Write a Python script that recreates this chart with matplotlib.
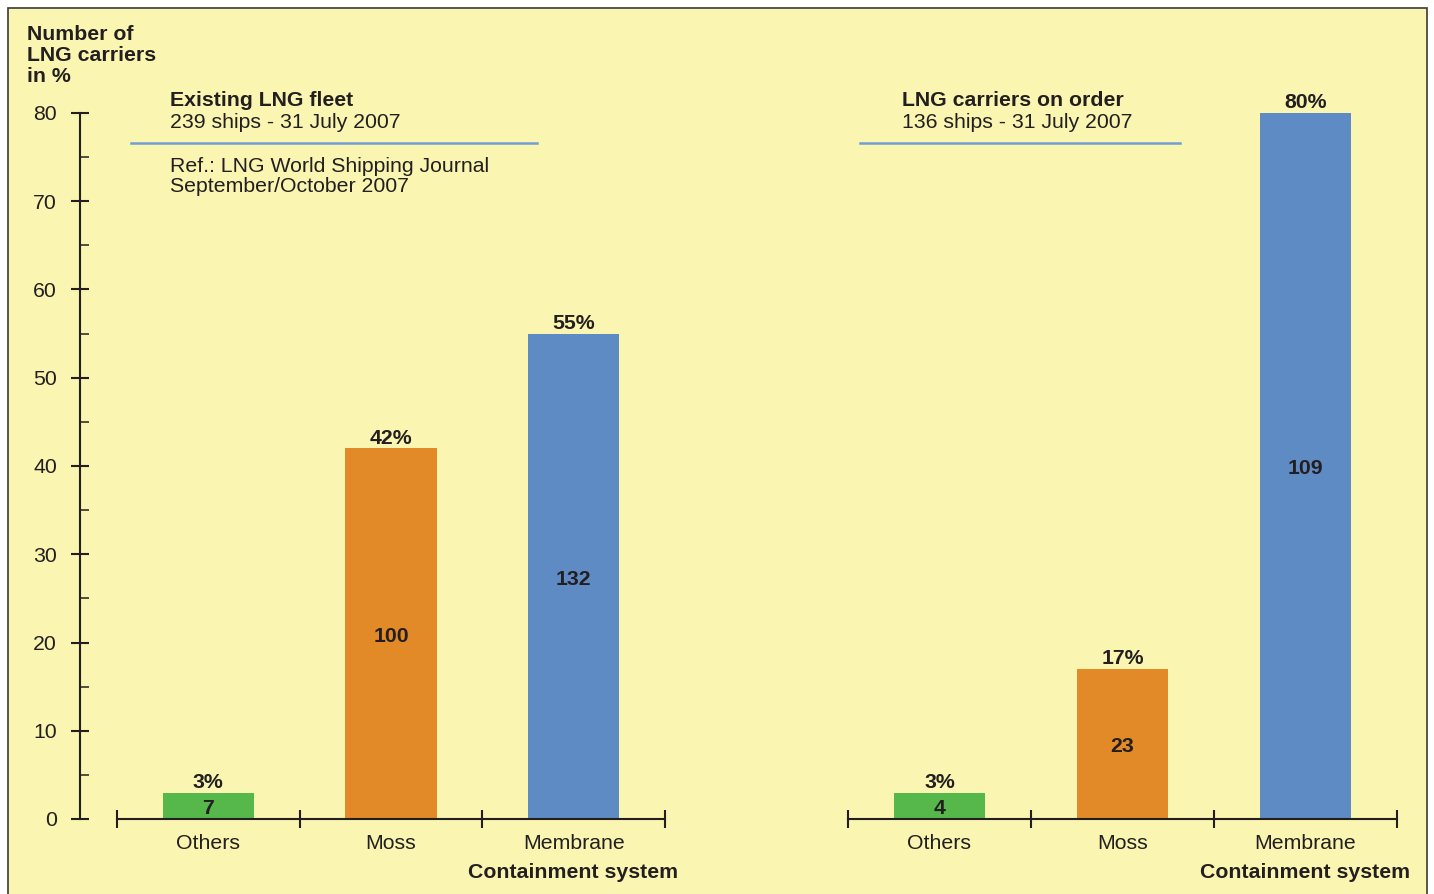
import matplotlib
matplotlib.use("Agg")

import matplotlib.pyplot as plt
from matplotlib.patches import Rectangle

# ---------------------------------------------------------------------------
# Data
# ---------------------------------------------------------------------------
categories = ["Others", "Moss", "Membrane"]
existing_pct = [3, 42, 55]
existing_ships = [7, 100, 132]
order_pct = [3, 17, 80]
order_ships = [4, 23, 109]

# ---------------------------------------------------------------------------
# Style
# ---------------------------------------------------------------------------
W, H = 1434, 894
BG = "#FAF5B0"
TXT = "#231F20"
LINE_BLUE = "#6F9FD3"
BAR_COLORS = ["#56B84B", "#E18A27", "#5F8BC5"]
plt.rcParams["font.family"] = ["Liberation Sans", "DejaVu Sans"]
FS = 15.3


def fx(x):
    return x / W


def fy(y):
    return 1 - y / H


fig = plt.figure(figsize=(W / 100, H / 100), dpi=100)
fig.patch.set_facecolor("white")

# yellow panel with a border on top, left and right
fig.patches.append(Rectangle((fx(8), -0.02), fx(1427) - fx(8), fy(8) + 0.02,
                             transform=fig.transFigure, facecolor=BG,
                             edgecolor="#3A3A3A", linewidth=1.2, zorder=-5))

axis_bottom = fy(819)
axis_height = fy(113) - fy(819)
cat_w = 183.0


def make_panel(left_px, right_px, pct, ships, with_yaxis):
    ax = fig.add_axes([fx(left_px), axis_bottom, fx(right_px) - fx(left_px), axis_height])
    ax.set_zorder(2)
    ax.patch.set_visible(False)
    left_lim = -0.5 - (117 - left_px) / cat_w if with_yaxis else -0.5
    ax.set_xlim(left_lim, 2.5)
    ax.set_ylim(0, 80)

    x = range(len(categories))
    ax.bar(x, pct, width=0.5, color=BAR_COLORS, zorder=2)

    for xi, p, s in zip(x, pct, ships):
        ax.annotate(f"{p}%", (xi, p), xytext=(0, 0.5), textcoords="offset points",
                    ha="center", va="bottom", fontsize=FS, weight="bold",
                    color=TXT, annotation_clip=False)
        ax.annotate(str(s), (xi, p / 2), xytext=(0, -2), textcoords="offset points",
                    ha="center", va="center", fontsize=FS, weight="bold",
                    color=TXT, zorder=3)

    for side in ["top", "right"]:
        ax.spines[side].set_visible(False)
    ax.spines["bottom"].set_bounds(-0.5, 2.5)
    ax.spines["bottom"].set_linewidth(1.5)
    ax.spines["bottom"].set_color(TXT)

    ax.set_xticks(list(x))
    ax.set_xticklabels(categories, fontsize=FS, color=TXT)
    ax.tick_params(axis="x", which="major", length=0, pad=11)
    ax.set_xticks([-0.5, 0.5, 1.5, 2.5], minor=True)
    ax.tick_params(axis="x", which="minor", direction="inout", length=13,
                   width=1.5, color=TXT)

    if with_yaxis:
        ax.spines["left"].set_linewidth(1.5)
        ax.spines["left"].set_color(TXT)
        ax.set_yticks(range(0, 81, 10))
        ax.set_yticks(range(5, 80, 10), minor=True)
        ax.tick_params(axis="y", which="major", direction="inout", length=13,
                       width=1.5, color=TXT, labelsize=FS, labelcolor=TXT, pad=10)
        ax.tick_params(axis="y", which="minor", direction="in", length=6.5,
                       width=1.1, color=TXT)
    else:
        ax.spines["left"].set_visible(False)
        ax.set_yticks([])
    return ax


make_panel(80, 665, existing_pct, existing_ships, True)
make_panel(848, 1397, order_pct, order_ships, False)

# ---------------------------------------------------------------------------
# Titles and notes
# ---------------------------------------------------------------------------
fig.text(fx(27), fy(25), "Number of\nLNG carriers\nin %", ha="left", va="top",
         fontsize=FS, weight="bold", color=TXT, linespacing=1.12)

fig.text(fx(170), fy(101), "Existing LNG fleet", ha="left", va="center",
         fontsize=FS, weight="bold", color=TXT)
fig.text(fx(170), fy(123), "239 ships - 31 July 2007", ha="left", va="center",
         fontsize=FS, color=TXT)
fig.add_artist(plt.Line2D([fx(131), fx(537)], [fy(143), fy(143)],
                          color=LINE_BLUE, linewidth=1.8))
fig.text(fx(170), fy(166), "Ref.: LNG World Shipping Journal", ha="left",
         va="center", fontsize=FS, color=TXT)
fig.text(fx(170), fy(187), "September/October 2007", ha="left",
         va="center", fontsize=FS, color=TXT)

fig.text(fx(902), fy(101), "LNG carriers on order", ha="left", va="center",
         fontsize=FS, weight="bold", color=TXT)
fig.text(fx(902), fy(123), "136 ships - 31 July 2007", ha="left", va="center",
         fontsize=FS, color=TXT)
fig.add_artist(plt.Line2D([fx(860), fx(1180)], [fy(143), fy(143)],
                          color=LINE_BLUE, linewidth=1.8))

fig.text(fx(573), fy(873), "Containment system", ha="center", va="center",
         fontsize=FS, weight="bold", color=TXT)
fig.text(fx(1305), fy(873), "Containment system", ha="center", va="center",
         fontsize=FS, weight="bold", color=TXT)

fig.savefig("out.png", dpi=100, facecolor="white")
plt.close(fig)
